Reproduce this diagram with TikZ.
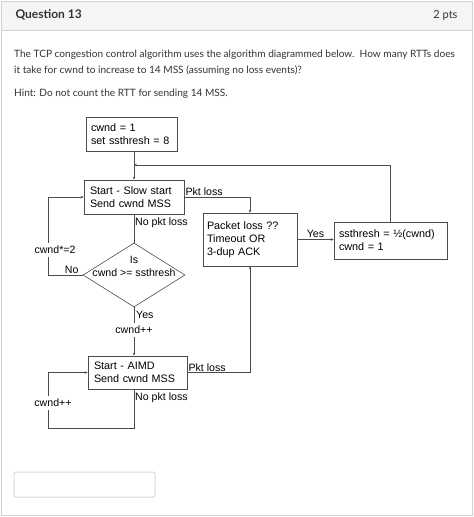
\documentclass[tikz,border=0pt]{standalone}
\usepackage{fontspec}
\setmainfont{Lato}
\newfontfamily\diagfont{Liberation Sans}
\usetikzlibrary{shapes.geometric,arrows.meta,calc}

\tikzset{
  box/.style={draw=black!70, line width=0.6pt, align=left, inner sep=0pt, font=\diagfont\fontsize{10.8}{13}\selectfont},
  arr/.style={draw=black!70, line width=0.6pt, -{Stealth[length=3pt,width=2.5pt]}},
  ln/.style={draw=black!70, line width=0.6pt},
  lbl/.style={font=\diagfont\fontsize{10.6}{13}\selectfont, inner sep=1pt}
}

\begin{document}
\begin{tikzpicture}[x=1pt,y=-1pt]
\useasboundingbox (0,0) rectangle (474,517);
% page frame and header
\fill[white] (0,0) rectangle (474,517);
\fill[black!4] (1.5,1.5) rectangle (472,30);
\draw[black!18, line width=1pt] (1.5,1.5) rectangle (472,515);
\draw[black!18, line width=1pt] (1.5,30) -- (472,30);
\node [anchor=west, font=\bfseries\fontsize{12}{14}\selectfont, text=black!80] (qtitle) at (12,15) {Question 13};
\node [anchor=east, font=\fontsize{11}{13}\selectfont, text=black!80] (qpts) at (461,15) {2 pts};

% question text
\node [anchor=north west, align=left, inner sep=0pt, font=\fontsize{10.1}{16}\selectfont, text=black!80] (qtext) at (14,50)
  {The TCP congestion control algorithm uses the algorithm diagrammed below.\ \ How many RTTs does\\
   it take for cwnd to increase to 14 MSS (assuming no loss events)?};
\node [anchor=north west, inner sep=0pt, font=\fontsize{10.1}{12}\selectfont, text=black!80] (qhint) at (14,89)
  {Hint: Do not count the RTT for sending 14 MSS.};

% boxes
\node [box, minimum width=91pt, minimum height=34pt, text width=81pt] (init) at (131.5,134) {cwnd = 1\\set ssthresh = 8};
\node [box, minimum width=100pt, minimum height=34pt, text width=88pt] (ss) at (134,197) {Start - Slow start\\Send cwnd MSS};
\node [box, minimum width=94pt, minimum height=53pt, text width=86pt] (loss) at (250,239.5) {Packet loss ??\\Timeout OR\\3-dup ACK};
\node [box, minimum width=113pt, minimum height=37pt, text width=103pt] (reset) at (390.5,240.5) {ssthresh = \textonehalf(cwnd)\\cwnd = 1};
\node [box, diamond, minimum width=102pt, minimum height=64pt, inner sep=0pt] (check) at (134,275) {};
\node [lbl, align=center] (checktxt) at (134,266) {Is\\cwnd >= ssthresh};
\node [box, minimum width=99pt, minimum height=33pt, text width=87pt] (aimd) at (137.5,372.5) {Start - AIMD\\Send cwnd MSS};

% connectors
\coordinate (join) at (134,165);
\coordinate (noss) at (48,275);
\coordinate (noaimd) at (48,428);
\draw[arr] (ss.north |- init.south) -- (ss.north);
\draw[arr] (reset.north) |- (join);
\draw[arr] (ss.east) -| (loss.north);
\node [lbl, anchor=south west] (pktloss1) at (ss.east) {Pkt loss};
\draw[arr] (loss.east) -- (loss.east -| reset.west);
\node [lbl, anchor=south, yshift=1pt] (yes1) at ($(loss.east)!0.5!(loss.east -| reset.west)$) {Yes};
\draw[ln] (ss.south) -- (check.north);
\node [lbl, anchor=west] (nopkt1) at (134,223) {No pkt loss};
\draw[arr] (check.west) -- (noss) |- (ss.west);
\node [lbl, anchor=south east] (no1) at ([xshift=-3pt]check.west) {No};
\node [lbl, fill=white, inner ysep=3pt] (dbl) at (55,250) {cwnd*=2};
\draw[arr] (check.south) -- (check.south |- aimd.north);
\node [lbl, anchor=west] (yes2) at (135,315) {Yes};
\node [lbl, fill=white, inner ysep=3pt] (inc1) at (134,330) {cwnd++};
\draw[arr] (aimd.east) -| (loss.south);
\node [lbl, anchor=south west] (pktloss2) at (aimd.east) {Pkt loss};
\draw[arr] (aimd.south -| check.south) -- (134,428) -- (noaimd) |- (aimd.west);
\node [lbl, anchor=west] (nopkt2) at (134,398) {No pkt loss};
\node [lbl, fill=white, inner ysep=3pt] (inc2) at (53,403) {cwnd++};

% answer field
\draw[black!15, line width=1pt, rounded corners=2pt] (14,472) rectangle (155,497);
\end{tikzpicture}
\end{document}
